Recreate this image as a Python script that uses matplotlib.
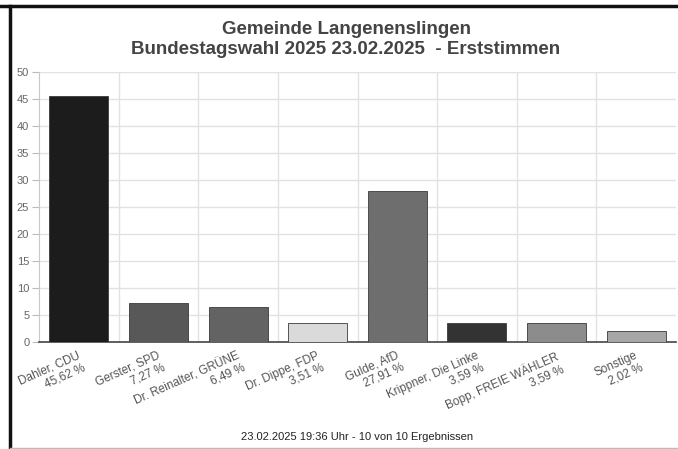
import matplotlib
matplotlib.use('Agg')
import matplotlib.pyplot as plt
from matplotlib.lines import Line2D

plt.rcParams['font.family'] = ['Liberation Sans', 'DejaVu Sans']

# Erststimmen in Prozent
candidates = ['Dahler, CDU', 'Gerster, SPD', 'Dr. Reinalter, GRÜNE', 'Dr. Dippe, FDP',
              'Gulde, AfD', 'Krippner, Die Linke', 'Bopp, FREIE WÄHLER', 'Sonstige']
percent = [45.62, 7.27, 6.49, 3.51, 27.91, 3.59, 3.59, 2.02]
percent_text = ['45,62 %', '7,27 %', '6,49 %', '3,51 %', '27,91 %', '3,59 %', '3,59 %', '2,02 %']
bar_colors = ['#1c1c1c', '#585858', '#636363', '#dadada', '#6e6e6e', '#333333', '#8c8c8c', '#a6a6a6']
y_ticks = [0, 5, 10, 15, 20, 25, 30, 35, 40, 45, 50]

W, H = 678, 449
fig = plt.figure(figsize=(W / 100, H / 100), dpi=100)
ax = fig.add_axes([39 / W, (H - 342) / H, (676 - 39) / W, (342 - 72) / H])

x = list(range(len(candidates)))
ax.bar(x, percent, width=0.74, color=bar_colors, edgecolor='#3a3a3a', linewidth=0.6, zorder=3)

ax.set_xlim(-0.5, len(candidates) - 0.5)
ax.set_ylim(0, 50)
ax.set_yticks(y_ticks)
ax.set_yticklabels([str(v) for v in y_ticks], fontsize=8, color='#666666')

# grid: horizontal at ticks, vertical at category boundaries
for v in y_ticks[1:]:
    ax.axhline(v, color='#e2e2e2', linewidth=1, zorder=1)
for b in range(1, len(candidates)):
    ax.axvline(b - 0.5, color='#e2e2e2', linewidth=1, zorder=1)

ax.set_xticks(x)
ax.set_xticklabels([])
ax.tick_params(axis='x', length=0)
ax.tick_params(axis='y', length=5, color='#bbbbbb', pad=2)

# two-line rotated category labels
for i, (c, p) in enumerate(zip(candidates, percent_text)):
    ax.text(i - 0.02, -1.4, f'{c}\n{p}', rotation=24, ha='right', va='top',
            rotation_mode='anchor', multialignment='right', fontsize=8.5,
            color='#555555', linespacing=1.1, clip_on=False)

for s in ['top', 'right']:
    ax.spines[s].set_visible(False)
ax.spines['left'].set_color('#c8c8c8')
ax.spines['bottom'].set_color('#444444')
ax.spines['bottom'].set_linewidth(1.2)

fig.text(346 / W, 1 - 29 / H, 'Gemeinde Langenenslingen', ha='center', va='center',
         fontsize=13.5, fontweight='bold', color='#444444')
fig.text(346 / W, 1 - 50 / H, 'Bundestagswahl 2025 23.02.2025  - Erststimmen', ha='center', va='center',
         fontsize=13.5, fontweight='bold', color='#444444')
fig.text(357 / W, 1 - 437 / H, '23.02.2025 19:36 Uhr - 10 von 10 Ergebnissen', ha='center', va='center',
         fontsize=8, color='#222222')

# frame of the screenshot
fig.add_artist(Line2D([0, 1], [1 - 6 / H, 1 - 6 / H], color='#111111', linewidth=2.5, transform=fig.transFigure))
fig.add_artist(Line2D([10 / W, 10 / W], [0, 1 - 6 / H], color='#111111', linewidth=2.5, transform=fig.transFigure))
fig.add_artist(Line2D([10 / W, 1], [1.5 / H, 1.5 / H], color='#bbbbbb', linewidth=1, transform=fig.transFigure))

fig.savefig('out.png', dpi=100)
